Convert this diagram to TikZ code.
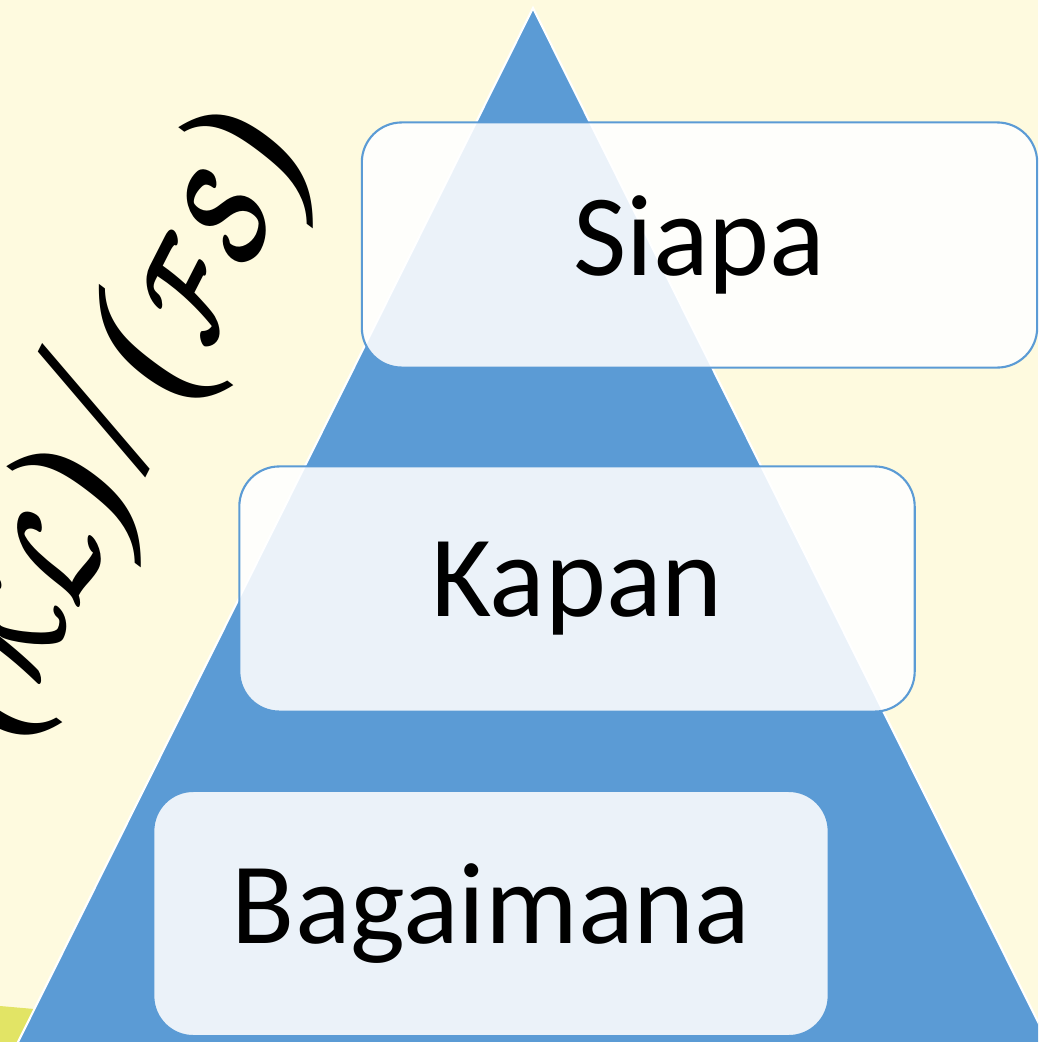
\documentclass[tikz,border=0pt]{standalone}
\usepackage{fontspec}
\usepackage{graphicx}
\newfontfamily\boxfont{Carlito}
\newfontfamily\capfont{Liberation Serif}
\newcommand\scriptpair[1]{{\fontsize{38}{44}\selectfont\scalebox{1.12}[1.5]{$\mathcal{#1}$}}}
\definecolor{paper}{HTML}{FEFADF}
\definecolor{pyramid}{HTML}{5B9BD5}
\definecolor{leaf}{HTML}{E2E465}
\begin{document}
\begin{tikzpicture}[x=0.01cm,y=-0.01cm,
  level/.style={draw=pyramid,line width=0.6pt,fill=white,fill opacity=0.88,text opacity=1,
    rounded corners=4mm,minimum width=6.75cm,minimum height=2.45cm,inner sep=0pt,
    font=\boxfont\fontsize{33}{40}\selectfont}]

% Background
\useasboundingbox (0,0) rectangle (1038,1042);
\clip (0,0) rectangle (1038,1042);
\fill[paper] (0,0) rectangle (1038,1042);
\fill[leaf] (0,1006) -- (80,1013) -- (80,1042) -- (0,1042) -- cycle;

% Pyramid
\filldraw[fill=pyramid,draw=white,line width=0.6pt] (533,8) -- (1052,1050) -- (14,1050) -- cycle;

% Rotated caption
\node[rotate=63,inner sep=0pt,font=\capfont\itshape\fontsize{52}{60}\selectfont\boldmath] (caption) at (110,420)
  {(\scriptpair{KL})\kern6pt\scalebox{1}[1.25]{/}\kern6pt(\scriptpair{FS})};

% Levels
\node[level] (siapa) at (699.5,245) {Siapa};
\node[level] (kapan) at (577,589) {Kapan};
\node[level] (bagaimana) at (491,913.5) {Bagaimana};

\end{tikzpicture}
\end{document}
